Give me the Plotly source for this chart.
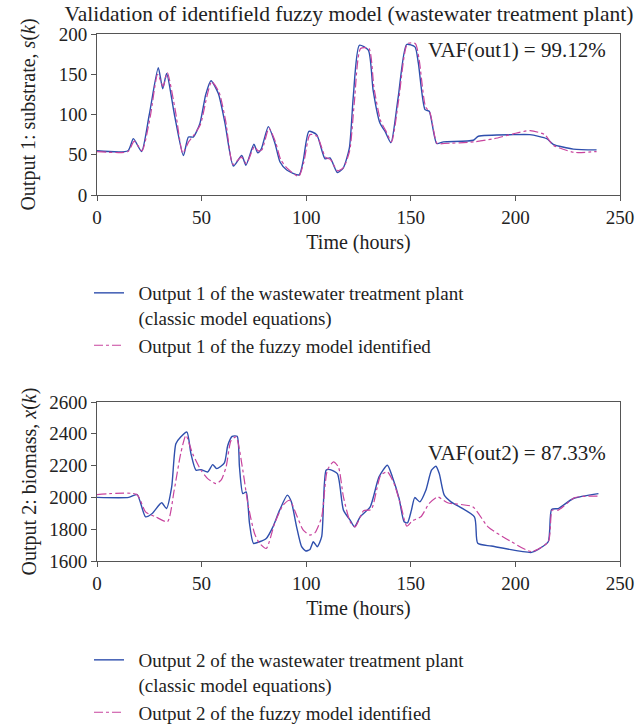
import plotly.graph_objects as go

# ---------------- data ----------------
t1_plant = [0, 14.8, 17.4, 21.3, 25, 29.3, 31.4, 33.3, 37, 41.3, 43.7, 46, 49.2, 52, 54.5, 58, 61.2, 65.2,
            69.2, 71.2, 75, 76.8, 78.5, 81.9, 85.1, 87.5, 90.7, 96.6, 98.6, 101.3, 105, 109, 111.4, 114.9,
            117.6, 120.6, 122.5, 125.4, 129.7, 132, 135.3, 137.7, 140.5, 144, 148, 152, 153.6, 156.8, 158.8,
            162.4, 165.6, 179.9, 182.3, 199, 206.9, 215, 218.1, 227.7, 238.8]
y1_plant = [55, 55, 70, 54, 100, 158, 132, 151, 100, 49, 72, 72, 89, 125, 142, 126, 89, 36,
            49, 37, 63, 52.5, 57, 85, 64, 41, 31, 25, 43, 79, 75, 45, 46, 28,
            33, 58, 122, 186, 180, 130, 89, 79, 65, 122, 187, 184, 164, 106, 104,
            64, 66, 68, 73, 75, 75, 70, 63, 57, 56]

t1_fuzzy = [0, 14.8, 17.8, 21.5, 25.5, 29.0, 31.6, 33.6, 37.5, 41.0, 43.8, 46.2, 49.5, 52.5, 54.8, 58.3,
            61.5, 65.0, 69.0, 71.4, 75.2, 77.0, 78.8, 82.2, 85.3, 87.8, 91.0, 96.4, 98.8, 101.8, 105.2,
            109.2, 111.6, 115.0, 117.8, 120.8, 123.0, 126.0, 130.0, 132.4, 135.6, 138.0, 140.8, 144.2,
            148.4, 152.2, 154.0, 157.0, 159.2, 162.6, 166.0, 180.0, 190.0, 199.0, 207.0, 214.0, 218.0,
            228.0, 238.8]
y1_fuzzy = [54, 54, 67, 55, 98, 150, 135, 152, 104, 52, 66, 74, 88, 122, 141, 128, 92, 38,
            47, 39, 60, 55, 56, 83, 66, 44, 33, 23, 40, 75, 73, 47, 44, 30,
            34, 55, 115, 182, 182, 133, 92, 80, 66, 118, 188, 188, 168, 110, 102,
            64, 64, 66, 70, 76, 80, 75, 62, 53, 54]

t2_plant = [0, 15.2, 19.2, 23.2, 26.4, 30.9, 33.2, 35.7, 37.7, 40, 43, 44.9, 47.3, 49.7, 52.9, 55.3, 57.2,
            60.9, 62.5, 64.6, 67, 68.1, 69.7, 71.3, 72.9, 74.8, 77.7, 80.9, 84.1, 87.3, 91, 92.9, 95.4,
            97.8, 99.8, 101.8, 103.4, 105.3, 107.4, 109.5, 111.4, 114.9, 117.8, 121, 123.1, 125.8, 130.6,
            134.8, 138.8, 141.2, 144.4, 146.8, 148.4, 150.3, 151.9, 154.3, 157.2, 159.9, 162, 163.6, 166,
            169.2, 180.4, 182, 188.5, 207.7, 210.9, 215.7, 217.3, 220.5, 227.7, 239.7]
y2_plant = [2000, 2000, 2018, 1878, 1899, 1966, 1930, 2066, 2338, 2380, 2411, 2275, 2171, 2175, 2160, 2206,
            2181, 2217, 2327, 2384, 2384, 2191, 2024, 2035, 1836, 1711, 1721, 1742, 1815, 1920, 2014, 1972,
            1815, 1690, 1663, 1673, 1721, 1690, 1753, 2171, 2175, 2150, 1920, 1857, 1815, 1878, 1941,
            2129, 2202, 2129, 1993, 1847, 1840, 1920, 1999, 1972, 2045, 2171, 2196, 2150, 2014,
            1972, 1878, 1711, 1694, 1654, 1673, 1721, 1924, 1930, 1993, 2024]

t2_fuzzy = [0, 19, 23.2, 28, 33.7, 36.9, 40, 42.5, 45.7, 49.7, 52.9, 56.9, 59.3, 61.7, 64.1, 66.5, 69.7,
            72.1, 75.3, 77.7, 80.9, 84.9, 88.9, 92.1, 95.4, 98.6, 101.8, 104.2, 107.4, 110.1, 113, 115.4,
            117.8, 121, 123.4, 127.4, 131.1, 135.6, 138.8, 142, 145.2, 148.1, 150.8, 154.8, 158.8, 162.8,
            167.6, 179.6, 186.9, 198.1, 207.7, 215.7, 217.6, 220.5, 228.5, 239.7]
y2_fuzzy = [2018, 2018, 1909, 1878, 1847, 2045, 2275, 2390, 2275, 2171, 2118, 2087, 2108, 2191, 2359, 2380,
            2171, 1962, 1773, 1711, 1679, 1836, 1951, 1982, 1888, 1794, 1763, 1778, 1878, 2171, 2223, 2191,
            2003, 1847, 1815, 1916, 1924, 2139, 2160, 2087, 1951, 1819, 1853, 1878, 1962, 2003,
            1966, 1941, 1815, 1721, 1659, 1721, 1920, 1920, 1999, 2008]

x_ticks = [0, 50, 100, 150, 200, 250]
y1_ticks = [0, 50, 100, 150, 200]
y2_ticks = [1600, 1800, 2000, 2200, 2400, 2600]

title_text = "Validation of identifield fuzzy model (wastewater treatment plant)"
vaf1 = "VAF(out1) = 99.12%"
vaf2 = "VAF(out2) = 87.33%"

# ---------------- figure ----------------
W, H = 639, 727
FONT = "Liberation Serif"
BLUE = "#2f4fad"
MAG = "#c8449e"
AX = "#555555"
TXT = "#222222"
NB = "&nbsp;"

fig = go.Figure()

fig.add_trace(go.Scatter(x=t1_plant, y=y1_plant, mode="lines",
                         line=dict(color=BLUE, width=1.4, shape="spline", smoothing=0.6),
                         name=NB * 2 + "Output 1 of the wastewater treatment plant<br>" + NB * 2 + "(classic model equations)",
                         xaxis="x", yaxis="y", legend="legend"))
fig.add_trace(go.Scatter(x=t1_fuzzy, y=y1_fuzzy, mode="lines",
                         line=dict(color=MAG, width=1.2, dash="dashdot", shape="spline", smoothing=0.6),
                         name=NB * 2 + "Output 1 of the fuzzy model identified",
                         xaxis="x", yaxis="y", legend="legend"))
fig.add_trace(go.Scatter(x=t2_plant, y=y2_plant, mode="lines",
                         line=dict(color=BLUE, width=1.4, shape="spline", smoothing=0.6),
                         name=NB * 2 + "Output 2 of the wastewater treatment plant<br>" + NB * 2 + "(classic model equations)",
                         xaxis="x2", yaxis="y2", legend="legend2"))
fig.add_trace(go.Scatter(x=t2_fuzzy, y=y2_fuzzy, mode="lines",
                         line=dict(color=MAG, width=1.2, dash="dashdot", shape="spline", smoothing=0.6),
                         name=NB * 2 + "Output 2 of the fuzzy model identified",
                         xaxis="x2", yaxis="y2", legend="legend2"))

xd = [97 / W, 620 / W]
ax_common = dict(showline=True, linecolor=AX, linewidth=1, mirror=True, ticks="outside", ticklen=5,
                 tickcolor=AX, showgrid=False, zeroline=False, automargin=False,
                 tickfont=dict(family=FONT, size=19, color=TXT))
title_font = dict(family=FONT, size=20, color=TXT)
leg_font = dict(family=FONT, size=19, color=TXT)

fig.update_layout(
    width=W, height=H, margin=dict(l=0, r=0, t=0, b=0, autoexpand=False),
    paper_bgcolor="white", plot_bgcolor="white",
    font=dict(family=FONT, size=19, color=TXT),
    title=dict(text=title_text, x=349 / W, xanchor="center", y=1 - 13 / H, yanchor="middle",
               font=dict(family=FONT, size=21.5, color=TXT)),
    xaxis=dict(domain=xd, anchor="y", range=[0, 250], tickvals=x_ticks,
               title=dict(text="Time (hours)", standoff=8, font=title_font), **ax_common),
    yaxis=dict(domain=[1 - 195 / H, 1 - 34 / H], anchor="x", range=[0, 200], tickvals=y1_ticks,
               title=dict(text="Output 1: substrate, <i>s</i>(<i>k</i>)", standoff=17, font=title_font), **ax_common),
    xaxis2=dict(domain=xd, anchor="y2", range=[0, 250], tickvals=x_ticks,
                title=dict(text="Time (hours)", standoff=8, font=title_font), **ax_common),
    yaxis2=dict(domain=[1 - 561 / H, 1 - 402 / H], anchor="x2", range=[1600, 2600], tickvals=y2_ticks,
                title=dict(text="Output 2: biomass, <i>x</i>(<i>k</i>)", standoff=7, font=title_font), **ax_common),
    legend=dict(x=89 / W, y=1 - 274 / H, xanchor="left", yanchor="top", bgcolor="rgba(0,0,0,0)",
                font=leg_font, tracegroupgap=0, itemwidth=30, valign="top"),
    legend2=dict(x=89 / W, y=1 - 641 / H, xanchor="left", yanchor="top", bgcolor="rgba(0,0,0,0)",
                 font=leg_font, tracegroupgap=0, itemwidth=30, valign="top"),
    showlegend=True,
    annotations=[
        dict(text=vaf1, xref="x", yref="y", x=244.5, y=180, xanchor="right", yanchor="middle",
             showarrow=False, font=dict(family=FONT, size=21, color=TXT)),
        dict(text=vaf2, xref="x2", yref="y2", x=244.5, y=2278, xanchor="right", yanchor="middle",
             showarrow=False, font=dict(family=FONT, size=21, color=TXT)),
    ],
)

fig.write_html("out.html")
